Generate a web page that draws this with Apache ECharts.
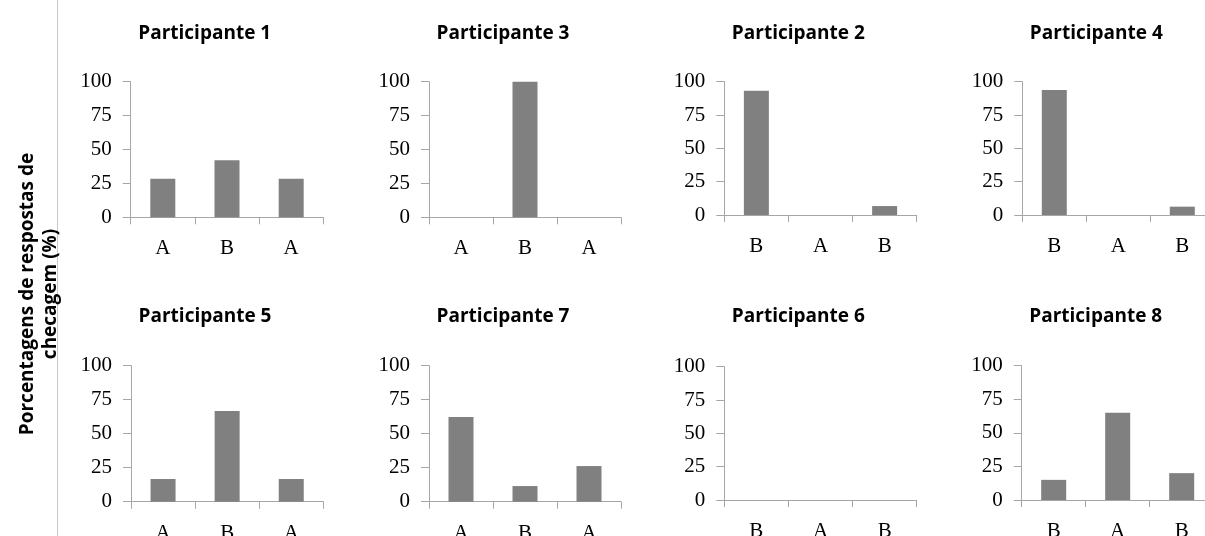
<!DOCTYPE html>
<html>
<head>
<meta charset="utf-8">
<script src="https://cdn.jsdelivr.net/npm/echarts@6/dist/echarts.min.js"></script>
<style>html,body{margin:0;padding:0;background:#fff}#c{width:1205px;height:536px}</style>
</head>
<body>
<div id="c"></div>
<script>
// ---- data ----
const panelTitles = ['Participante 1','Participante 3','Participante 2','Participante 4',
                     'Participante 5','Participante 7','Participante 6','Participante 8'];
const catsABA = ['A','B','A'];
const catsBAB = ['B','A','B'];
const panelCats = [catsABA, catsABA, catsBAB, catsBAB, catsABA, catsABA, catsBAB, catsBAB];
const p1 = [28.5, 42, 28.5];
const p3 = [0, 100, 0];
const p2 = [93.3, 0, 6.7];
const p4 = [93.75, 0, 6.25];
const p5 = [16.7, 66.7, 16.7];
const p7 = [62.3, 11.5, 26.2];
const p6 = [0, 0, 0];
const p8 = [15, 65, 20];
const panelValues = [p1, p3, p2, p4, p5, p7, p6, p8];
const yTicks = [0, 25, 50, 75, 100];
const yAxisName = 'Porcentagens de respostas de\nchecagem (%)';

// ---- layout ----
const grids = [
  {left:130.7, top:81.7,  width:192.6, height:135.6},
  {left:429,   top:81.7,  width:192,   height:135.6},
  {left:724.3, top:81.7,  width:192.4, height:133.3},
  {left:1022.3,top:81.7,  width:192,   height:133.3},
  {left:131,   top:365.7, width:192.3, height:136},
  {left:429,   top:365.7, width:192,   height:136},
  {left:724.3, top:366.7, width:192.4, height:133.3},
  {left:1021.7,top:365.7, width:192,   height:134.3}
];
const axisColor = '#a6a6a6';
const serif = 'Liberation Serif';

const chart = echarts.init(document.getElementById('c'), null, {renderer:'canvas'});
const option = {
  animation:false,
  backgroundColor:'#fff',
  grid: grids.map(g => Object.assign({containLabel:false, outerBoundsMode:'none'}, g)),
  xAxis: grids.map((g,i) => ({
    type:'category', gridIndex:i, data: panelCats[i],
    axisLine:{show:true, lineStyle:{color:axisColor, width:1}},
    axisTick:{show:true, length:7, lineStyle:{color:axisColor}},
    axisLabel:{color:'#000', fontFamily:serif, fontSize:21, margin:21},
    splitLine:{show:false}
  })),
  yAxis: grids.map((g,i) => ({
    type:'value', gridIndex:i, min:0, max:100, interval:25,
    axisLine:{show:true, lineStyle:{color:axisColor, width:1}},
    axisTick:{show:true, length:8, lineStyle:{color:axisColor}},
    axisLabel:{color:'#000', fontFamily:serif, fontSize:21, margin:19,
      formatter: v => yTicks.indexOf(v) >= 0 ? String(v) : ''},
    splitLine:{show:false}
  })),
  series: panelValues.map((vals,i) => ({
    type:'bar', xAxisIndex:i, yAxisIndex:i, data: vals, barWidth:25,
    itemStyle:{color:'#808080'}
  })),
  graphic: [
    {type:'line', shape:{x1:57.5, y1:0, x2:57.5, y2:536}, style:{stroke:'#c8c8c8', lineWidth:1}},
    {type:'text', x:39, y:294, rotation:Math.PI/2,
      style:{text:yAxisName, fontFamily:'Open Sans', fontWeight:'bold', fontSize:19,
             lineHeight:23, fill:'#000', align:'center', verticalAlign:'middle'}}
  ].concat(grids.map((g,i) => ({
    type:'text', x: g.left + 74, y: (i < 4 ? 34 : 316.7),
    style:{text: panelTitles[i], fontFamily:'Open Sans', fontWeight:'bold', fontSize:19,
           fill:'#000', align:'center', verticalAlign:'middle'}
  })))
};
chart.setOption(option);
</script>
</body>
</html>
